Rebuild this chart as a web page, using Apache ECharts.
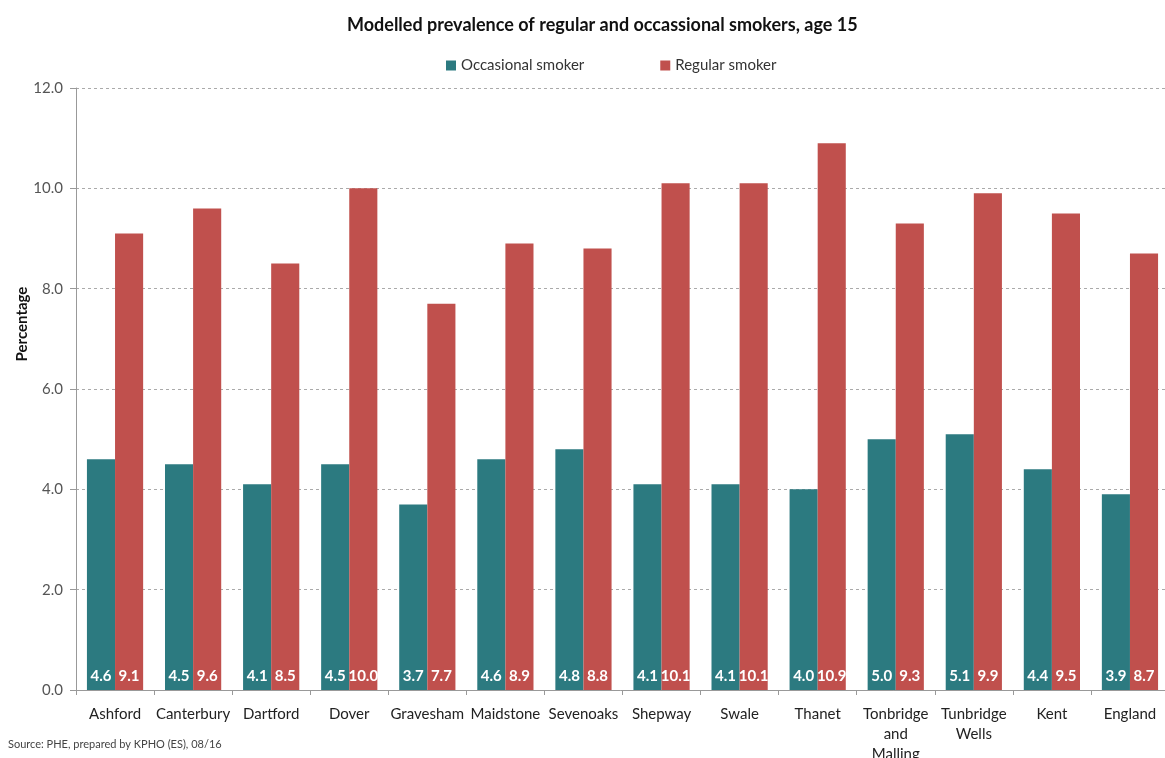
<!DOCTYPE html>
<html>
<head>
<meta charset="utf-8">
<script src="https://cdn.jsdelivr.net/npm/echarts@6/dist/echarts.min.js"></script>
<style>
  html, body { margin: 0; padding: 0; background: #fff; }
  #chart { width: 1165px; height: 758px; }
</style>
</head>
<body>
<div id="chart"></div>
<script>
// Districts of Kent plus county and national comparators
const areas = ['Ashford', 'Canterbury', 'Dartford', 'Dover', 'Gravesham', 'Maidstone', 'Sevenoaks',
  'Shepway', 'Swale', 'Thanet', 'Tonbridge\nand\nMalling', 'Tunbridge\nWells', 'Kent', 'England'];
// Modelled prevalence (%) at age 15
const occasional = [4.6, 4.5, 4.1, 4.5, 3.7, 4.6, 4.8, 4.1, 4.1, 4.0, 5.0, 5.1, 4.4, 3.9];
const regular = [9.1, 9.6, 8.5, 10.0, 7.7, 8.9, 8.8, 10.1, 10.1, 10.9, 9.3, 9.9, 9.5, 8.7];
const yTicks = { min: 0, max: 12, interval: 2 };

const font = 'Lato, "Open Sans", sans-serif';
const chart = echarts.init(document.getElementById('chart'), null, { renderer: 'canvas' });

const valueLabel = {
  show: true,
  position: 'insideBottom',
  distance: 6,
  color: '#fff',
  fontWeight: 'bold',
  fontSize: 15,
  fontFamily: font,
  formatter: p => p.value.toFixed(1)
};

chart.setOption({
  animation: false,
  title: {
    text: 'Modelled prevalence of regular and occassional smokers, age 15',
    left: 342,
    top: 11,
    textStyle: { fontFamily: font, fontSize: 18, fontWeight: 'bold', color: '#111' }
  },
  legend: {
    top: 53,
    left: 441,
    itemWidth: 10,
    itemHeight: 10,
    itemGap: 76,
    icon: 'rect',
    textStyle: { fontFamily: font, fontSize: 15, color: '#333' },
    data: ['Occasional smoker', 'Regular smoker']
  },
  grid: { left: 76, right: -4, top: 88, bottom: 68, containLabel: false, outerBoundsMode: 'none' },
  xAxis: {
    type: 'category',
    data: areas,
    axisLine: { lineStyle: { color: '#999' } },
    axisTick: { show: true, alignWithLabel: false, length: 5, lineStyle: { color: '#999' } },
    axisLabel: { fontFamily: font, fontSize: 15, color: '#222', margin: 14, lineHeight: 20, interval: 0 }
  },
  yAxis: {
    type: 'value',
    min: yTicks.min,
    max: yTicks.max,
    interval: yTicks.interval,
    axisLine: { show: true, lineStyle: { color: '#999' } },
    axisTick: { show: true, length: 6, lineStyle: { color: '#999' } },
    axisLabel: { fontFamily: font, fontSize: 15, color: '#555', margin: 13, formatter: v => v.toFixed(1) },
    splitLine: { lineStyle: { color: '#aaa', type: [3, 3] } }
  },
  series: [
    {
      name: 'Occasional smoker',
      type: 'bar',
      data: occasional,
      barGap: '0%',
      barCategoryGap: '28%',
      itemStyle: { color: '#2C7A80' },
      label: valueLabel
    },
    {
      name: 'Regular smoker',
      type: 'bar',
      data: regular,
      barGap: '0%',
      barCategoryGap: '28%',
      itemStyle: { color: '#C0504D' },
      label: valueLabel
    }
  ],
  graphic: [
    {
      type: 'text',
      x: 22,
      y: 324,
      rotation: Math.PI / 2,
      style: {
        text: 'Percentage',
        fontFamily: font,
        fontSize: 15,
        fontWeight: 'bold',
        fill: '#111',
        align: 'center',
        verticalAlign: 'middle'
      }
    },
    {
      type: 'text',
      left: 8,
      top: 739,
      style: {
        text: 'Source: PHE, prepared by KPHO (ES), 08/16',
        fontFamily: font,
        fontSize: 11,
        fill: '#444'
      }
    }
  ]
});
</script>
</body>
</html>
